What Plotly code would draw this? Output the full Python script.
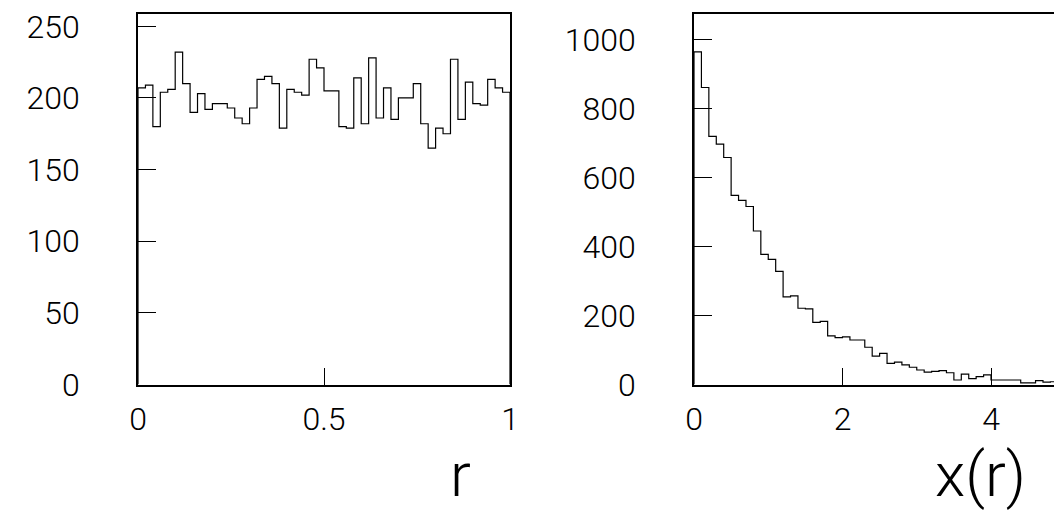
import numpy as np
import plotly.graph_objects as go

# Uniform random numbers r in [0, 1): 50 bins
r_counts = [207, 209, 180, 204, 206, 232, 210, 190, 203, 192,
            196, 196, 193, 186, 182, 193, 213, 215, 210, 179,
            206, 204, 202, 227, 221, 205, 205, 180, 179, 214,
            182, 228, 186, 207, 185, 200, 200, 210, 182, 165,
            179, 175, 227, 185, 211, 196, 195, 213, 207, 204]

# Transformed x(r) = -ln(r): 50 bins over [0, 5)
x_counts = [964, 861, 719, 697, 658, 548, 534, 516, 445, 377,
            363, 328, 254, 257, 221, 219, 180, 183, 141, 136,
            138, 129, 129, 108, 82, 90, 61, 65, 57, 50,
            42, 36, 38, 40, 34, 13, 30, 17, 23, 28,
            13, 13, 13, 13, 5, 5, 11, 7, 8, 5]

r_edges = np.linspace(0.0, 1.0, len(r_counts) + 1)
x_edges = np.linspace(0.0, 5.0, len(x_counts) + 1)

r_ticks = [0, 0.5, 1]
r_ticktext = ["0", "0.5", "1"]
x_ticks = [0, 2, 4]
y1_ticks = [0, 50, 100, 150, 200, 250]
y2_ticks = [0, 200, 400, 600, 800, 1000]

FONT = "Roboto"
W, H = 1054, 512


def step_xy(edges, counts):
    """Outline of a histogram: rise from the baseline, step across each bin, drop back."""
    xs = [edges[0]] + list(edges) + [edges[-1]]
    ys = [0] + list(counts) + [counts[-1], 0]
    return xs, ys


fig = go.Figure()

xs, ys = step_xy(r_edges, r_counts)
fig.add_trace(go.Scatter(x=xs, y=ys, mode="lines", line=dict(shape="hv", color="black", width=1.2),
                         xaxis="x", yaxis="y", showlegend=False, hoverinfo="skip"))
xs, ys = step_xy(x_edges, x_counts)
fig.add_trace(go.Scatter(x=xs, y=ys, mode="lines", line=dict(shape="hv", color="black", width=1.2),
                         xaxis="x2", yaxis="y2", showlegend=False, hoverinfo="skip"))

tickfont = dict(family=FONT, size=32, color="black", weight=300)
titlefont = dict(family=FONT, size=62, color="black", weight=300)

y_dom = [127.5 / H, (H - 14) / H]

common = dict(showgrid=False, zeroline=False, showline=True, linecolor="black", linewidth=1.5,
              ticks="inside", tickcolor="black", tickwidth=1.2, tickfont=tickfont,
              automargin=False)

fig.update_layout(
    width=W, height=H,
    margin=dict(l=0, r=0, t=0, b=0, autoexpand=False),
    paper_bgcolor="white", plot_bgcolor="white",
    xaxis=dict(domain=[138 / W, 510 / W], range=[0, 1], tickvals=r_ticks, ticktext=r_ticktext,
               ticklen=17, mirror=True, ticklabelstandoff=5, anchor="y", **common),
    yaxis=dict(domain=y_dom, range=[0, 258.6], tickvals=y1_ticks, ticklen=18, mirror=True,
               ticklabelstandoff=50, anchor="x", **common),
    xaxis2=dict(domain=[694 / W, 1.0], range=[0, (W - 694) / 74.25], tickvals=x_ticks,
                ticklen=17, mirror=True, ticklabelstandoff=5, anchor="y2", **common),
    yaxis2=dict(domain=y_dom, range=[0, 1074], tickvals=y2_ticks, ticklen=18, mirror=False,
                ticklabelstandoff=50, anchor="x2", **common),
    annotations=[
        dict(text="r", xref="paper", yref="paper", x=460 / W, y=(H - 474) / H,
             xanchor="center", yanchor="middle", showarrow=False, font=titlefont),
        dict(text="x(r)", xref="paper", yref="paper", x=980 / W, y=(H - 474) / H,
             xanchor="center", yanchor="middle", showarrow=False, font=titlefont),
    ],
)

# Page without body margin so the figure fills the window exactly
fig.write_html("out.html", post_script="document.body.style.margin='0';"
                                       "document.body.style.overflow='hidden';")
